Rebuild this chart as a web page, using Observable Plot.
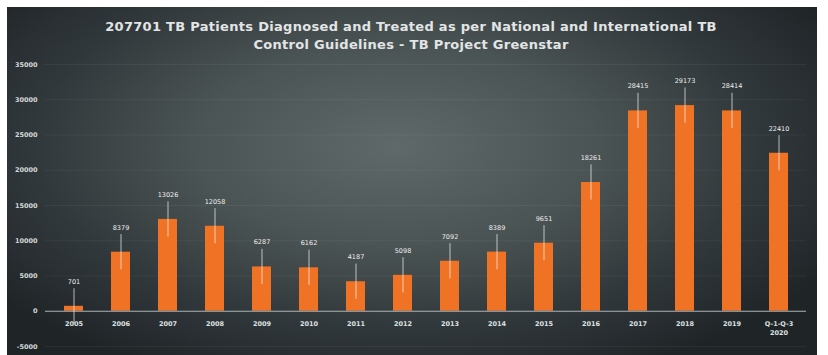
<!DOCTYPE html>
<html>
<head>
<meta charset="utf-8">
<script src="https://cdn.jsdelivr.net/npm/d3@7"></script>
<script src="https://cdn.jsdelivr.net/npm/@observablehq/plot@0.6"></script>
<style>
  html, body { margin: 0; padding: 0; background: #ffffff; }
  #wrap { position: relative; width: 828px; height: 355px; overflow: hidden; }
  #bg { position: absolute; left: 7px; top: 7px; width: 810px; height: 348px;
        background: radial-gradient(ellipse 62% 72% at 48% 40%, #5f6969 0%, #4b5455 40%, #31383b 72%, #1f2427 100%); }
  #title { position: absolute; left: 0; top: 18px; width: 822px; text-align: center;
           font: bold 13px "DejaVu Sans", sans-serif; color: #e2e5e5; line-height: 18px; letter-spacing: 0.3px; }
  #chart { position: absolute; left: 0; top: 0; }
</style>
</head>
<body>
<div id="wrap">
  <div id="bg"></div>
  <div id="chart"></div>
  <div id="title">207701 TB Patients Diagnosed and Treated as per National and International TB<br>Control Guidelines - TB Project Greenstar</div>
</div>
<script>
const categories = ["2005","2006","2007","2008","2009","2010","2011","2012","2013","2014","2015","2016","2017","2018","2019","Q-1-Q-3\n2020"];
const patients = [701, 8379, 13026, 12058, 6287, 6162, 4187, 5098, 7092, 8389, 9651, 18261, 28415, 29173, 28414, 22410];
const errors = [2500, 2500, 2500, 2500, 2500, 2500, 2500, 2500, 2500, 2500, 2500, 2500, 2500, 2500, 2500, 2500];
const yTicks = [-5000, 0, 5000, 10000, 15000, 20000, 25000, 30000, 35000];

const data = categories.map((c, i) => ({cat: c, v: patients[i], e: errors[i]}));

const chart = Plot.plot({
  width: 828,
  height: 355,
  marginTop: 64,
  marginBottom: 9,
  marginLeft: 45,
  marginRight: 22,
  style: {background: "transparent", color: "#dfe3e3", fontFamily: "DejaVu Sans, sans-serif"},
  x: {domain: categories, paddingInner: 0.6, paddingOuter: 0.3, axis: null},
  y: {domain: [-5000, 35000], ticks: yTicks, tickFormat: d => String(d), label: null},
  marks: [
    Plot.gridY(yTicks, {stroke: "#ffffff", strokeOpacity: 0.05}),
    Plot.axisY(yTicks, {tickSize: 0, tickPadding: 8, fontSize: 6.5, fontWeight: "bold", fill: "#d4d8d8", tickFormat: d => String(d), label: null}),
    Plot.barY(data, {x: "cat", y: "v", fill: "#f07224"}),
    Plot.ruleY([0], {stroke: "#a8b0b2", strokeWidth: 1.2}),
    Plot.ruleX(data, {x: "cat", y1: d => d.v - d.e, y2: d => d.v + d.e, stroke: "#f4f4f4", strokeOpacity: 0.7, strokeWidth: 1}),
    Plot.text(data, {x: "cat", y: d => d.v + d.e, text: d => String(d.v), dy: -7, fontSize: 6.5, fill: "#eeeeee"}),
    Plot.text(data, {x: "cat", y: 0, text: "cat", dy: 8, lineAnchor: "top", fontSize: 6.5, fontWeight: "bold", fill: "#dde1e1", lineHeight: 1.45})
  ]
});
document.getElementById("chart").appendChild(chart);
</script>
</body>
</html>
